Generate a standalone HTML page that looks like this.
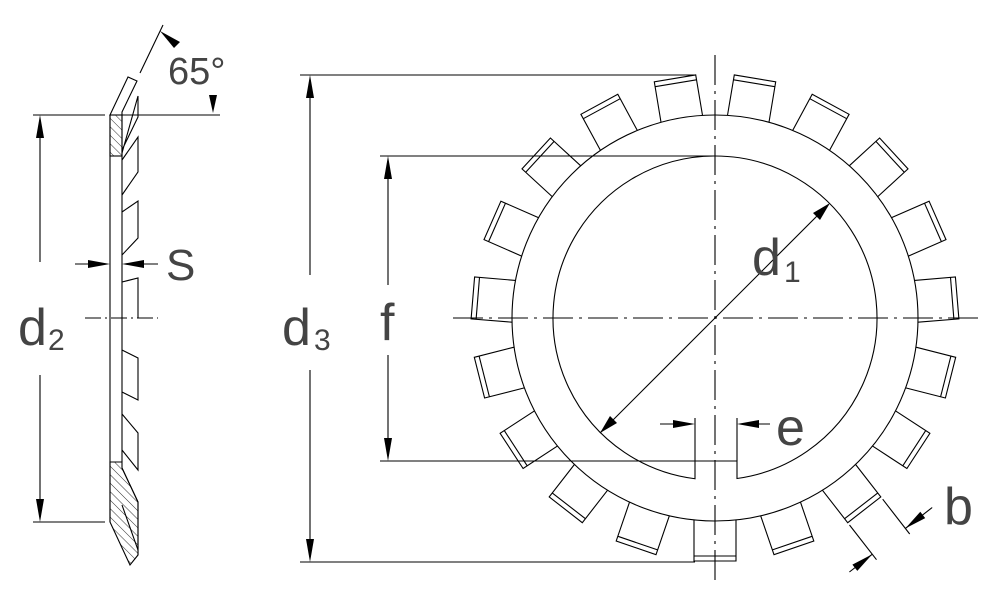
<!DOCTYPE html>
<html><head><meta charset="utf-8"><style>
html,body{margin:0;padding:0;background:#fff;}
svg{display:block;}
text{font-family:"Liberation Sans",sans-serif;fill:#444;font-weight:normal;}
</style></head><body>
<svg id="s" width="1000" height="611" viewBox="0 0 1000 611" xmlns="http://www.w3.org/2000/svg">
<defs>
<pattern id="h" width="6" height="6" patternUnits="userSpaceOnUse" patternTransform="rotate(-45)">
<line x1="0" y1="0" x2="0" y2="6" stroke="#000" stroke-width="0.8"/></pattern>
</defs>
<g stroke="#000" stroke-width="1.1" fill="none" id="g">
<line x1="110" y1="115" x2="110" y2="522"/>
<line x1="122" y1="115" x2="122" y2="462"/>
<rect x="110" y="115" width="12" height="41" fill="url(#h)"/>
<polygon points="110,115 128,77 137,81 122,112 122,115" fill="none"/>
<polyline points="122,153 138,96 138,117 122,150"/>
<polyline points="122,160 138,137 138,172 122,195"/>
<polyline points="122,212 138,201 138,238 122,255"/>
<polyline points="122,282 138,278 138,318"/>
<polyline points="122,350 138,358 138,400 122,392"/>
<polyline points="122,414 138,433 138,470 122,450"/>
<polygon points="110,462 122,462 122,468 138,502 138,555 130,565 110,522" fill="url(#h)"/>
<polyline points="122,468 138,502 138,555"/>
<line x1="122" y1="505" x2="138" y2="550"/>
<line x1="33" y1="115" x2="105" y2="115"/>
<line x1="33" y1="522" x2="105" y2="522"/>
<line x1="40" y1="120" x2="40" y2="262"/>
<line x1="40" y1="375" x2="40" y2="517"/>
<line x1="85" y1="318" x2="158" y2="318" stroke-dasharray="16,4,2,4"/>
<line x1="75" y1="264" x2="105" y2="264"/>
<line x1="127" y1="264" x2="158" y2="264"/>
<line x1="122" y1="115" x2="220" y2="115"/>
<line x1="140" y1="73" x2="163" y2="25"/>
<circle cx="715" cy="318" r="203"/>
<path id="inner" d=""/>
<line x1="453" y1="318" x2="980" y2="318" stroke-dasharray="30,6,3,6"/>
<line x1="715" y1="55" x2="715" y2="582" stroke-dasharray="30,6,3,6"/>
<line x1="300" y1="75" x2="695" y2="75"/>
<line x1="300" y1="562" x2="695" y2="562"/>
<line x1="310" y1="80" x2="310" y2="275"/>
<line x1="310" y1="370" x2="310" y2="557"/>
<line x1="380" y1="156" x2="715" y2="156"/>
<line x1="380" y1="461" x2="737" y2="461"/>
<line x1="388" y1="161" x2="388" y2="285"/>
<line x1="388" y1="355" x2="388" y2="456"/>
<line x1="600" y1="433" x2="828" y2="205"/>
<line x1="695" y1="418" x2="695" y2="461"/>
<line x1="737" y1="418" x2="737" y2="461"/>
<line x1="660" y1="424" x2="690" y2="424"/>
<line x1="742" y1="424" x2="770" y2="424"/>
</g>
<g fill="#000" stroke="none">
<polygon points="40,115 36,138 44,138"/>
<polygon points="40,522 36,499 44,499"/>
<polygon points="110,264 88,260 88,268"/>
<polygon points="122,264 144,260 144,268"/>
<polygon points="160,31 180,42 174,48"/>
<polygon points="213,113 209,95 217,95"/>
<polygon points="310,75 306,98 314,98"/>
<polygon points="310,562 306,539 314,539"/>
<polygon points="388,156 384,179 392,179"/>
<polygon points="388,461 384,438 392,438"/>
<polygon points="830,203 813,213 820,220"/>
<polygon points="600,433 617,423 610,416"/>
<polygon points="695,424 673,420 673,428"/>
<polygon points="737,424 759,420 759,428"/>
</g>
<g id="teeth" stroke="#000" stroke-width="1.1" fill="none"></g>
<text x="168" y="84" font-size="38">65°</text>
<text x="166" y="280" font-size="44">S</text>
<text x="18" y="345" font-size="52">d</text><text x="48" y="350" font-size="30">2</text>
<text x="282" y="345" font-size="52">d</text><text x="314" y="350" font-size="30">3</text>
<text x="380" y="340" font-size="52">f</text>
<text x="752" y="275" font-size="52">d</text><text x="784" y="282" font-size="30">1</text>
<text x="776" y="445" font-size="52">e</text>
<text x="944" y="524" font-size="52">b</text>
<script>
(function(){
var cx=715,cy=318,ns="http://www.w3.org/2000/svg",g=document.getElementById('teeth');
function P(a,u,v){var c=Math.cos(a),s=Math.sin(a);return (cx+u*c-v*s).toFixed(1)+","+(cy+u*s+v*c).toFixed(1);}
for(var k=0;k<19;k++){
 var a=(90+k*360/19)*Math.PI/180;
 var p=document.createElementNS(ns,'polyline');
 p.setAttribute('points',[P(a,202,-21),P(a,243,-21),P(a,243,21),P(a,202,21)].join(' '));
 g.appendChild(p);
 var l=document.createElementNS(ns,'line');
 var a1=P(a,238,-21).split(','),a2=P(a,238,21).split(',');
 l.setAttribute('x1',a1[0]);l.setAttribute('y1',a1[1]);l.setAttribute('x2',a2[0]);l.setAttribute('y2',a2[1]);
 g.appendChild(l);
}
var r=162,dx1=-20,dx2=22,y1=cy+Math.sqrt(r*r-dx1*dx1),y2=cy+Math.sqrt(r*r-dx2*dx2);
document.getElementById('inner').setAttribute('d',"M"+(cx+dx1)+","+y1+" A162,162 0 1,1 "+(cx+dx2)+","+y2+" L"+(cx+dx2)+",461 L"+(cx+dx1)+",461 Z");
var ab=(90-2*360/19)*Math.PI/180;
function ln(q1,q2){var l=document.createElementNS(ns,'line');var a=q1.split(','),b=q2.split(',');l.setAttribute('x1',a[0]);l.setAttribute('y1',a[1]);l.setAttribute('x2',b[0]);l.setAttribute('y2',b[1]);g.appendChild(l);}
ln(P(ab,246,-21),P(ab,290,-21));
ln(P(ab,246,21),P(ab,290,21));
ln(P(ab,283,-21),P(ab,283,-55));
ln(P(ab,283,21),P(ab,283,50));
function tri(u,v,dir){var pg=document.createElementNS(ns,'polygon');pg.setAttribute('points',[P(ab,u,v),P(ab,u-4,v+dir*22),P(ab,u+4,v+dir*22)].join(' '));pg.setAttribute('fill','#000');pg.setAttribute('stroke','none');g.appendChild(pg);}
tri(283,-21,-1);tri(283,21,1);
})();
</script>
</svg>
</body></html>
